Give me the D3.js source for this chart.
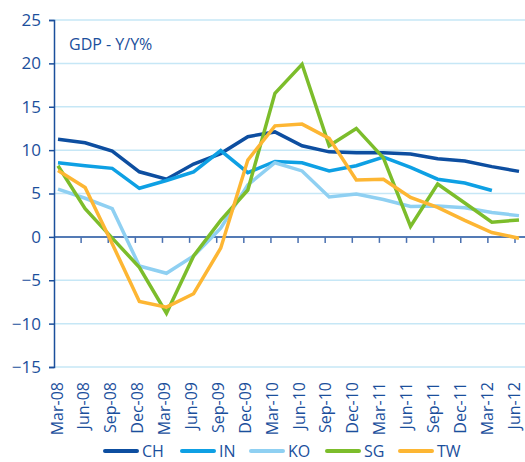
<!DOCTYPE html>
<html>
<head>
<meta charset="utf-8">
<script src="https://cdn.jsdelivr.net/npm/d3@7"></script>
<style>
  body { margin: 0; background: #fff; }
  svg text { font-family: "Open Sans", "Noto Sans", sans-serif; fill: #1b4f9c; }
</style>
</head>
<body>
<div id="chart"></div>
<script>
// Quarterly GDP growth, Y/Y %
const quarters = ['Mar-08', 'Jun-08', 'Sep-08', 'Dec-08', 'Mar-09', 'Jun-09', 'Sep-09', 'Dec-09',
    'Mar-10', 'Jun-10', 'Sep-10', 'Dec-10', 'Mar-11', 'Jun-11', 'Sep-11', 'Dec-11', 'Mar-12', 'Jun-12'];

const chValues = [11.25, 10.85, 9.9, 7.5, 6.65, 8.4, 9.6, 11.55, 12.1, 10.5, 9.8, 9.7, 9.7, 9.55, 9.0, 8.75, 8.1, 7.55];
const inValues = [8.55, 8.2, 7.9, 5.6, 6.5, 7.5, 9.95, 7.4, 8.7, 8.55, 7.6, 8.2, 9.2, 8.0, 6.65, 6.2, 5.35, null];
const koValues = [5.5, 4.45, 3.25, -3.35, -4.2, -2.2, 1.0, 6.0, 8.55, 7.6, 4.6, 4.95, 4.3, 3.5, 3.55, 3.35, 2.8, 2.45];
const sgValues = [8.2, 3.25, -0.15, -3.5, -8.8, -2.2, 1.9, 5.4, 16.55, 19.9, 10.5, 12.5, 9.1, 1.2, 6.1, 3.9, 1.7, 1.95];
const twValues = [7.65, 5.7, -0.8, -7.45, -8.1, -6.55, -1.3, 8.85, 12.8, 13.0, 11.35, 6.55, 6.65, 4.55, 3.4, 1.9, 0.5, -0.15];

const seriesNames = ['CH', 'IN', 'KO', 'SG', 'TW'];
const seriesColors = ['#0d4ea0', '#0ea0e4', '#8fd0f2', '#7cbd2b', '#fdb633'];
const yTicks = [-15, -10, -5, 0, 5, 10, 15, 20, 25];

const series = [chValues, inValues, koValues, sgValues, twValues].map((vals, i) => ({
    name: seriesNames[i],
    color: seriesColors[i],
    values: vals.map((v, j) => ({ q: quarters[j], v: v }))
}));

const width = 525;
const height = 462;
const axisColor = '#1b4f9c';

const svg = d3.select('#chart')
    .append('svg')
    .attr('width', width)
    .attr('height', height);

const x = d3.scalePoint()
    .domain(quarters)
    .range([58, 519]);

// labels sit slightly left of the data points
const xLabel = d3.scalePoint()
    .domain(quarters)
    .range([57, 514]);

const y = d3.scaleLinear()
    .domain([-15, 25])
    .range([367, 20]);

const axisLeft = 54;

// gridlines
svg.append('g')
    .selectAll('line')
    .data(yTicks.filter(t => t !== 0))
    .enter()
    .append('line')
    .attr('x1', axisLeft)
    .attr('x2', width)
    .attr('y1', d => y(d))
    .attr('y2', d => y(d))
    .attr('stroke', '#c6e7f6')
    .attr('stroke-width', 1.5);

// y axis
const yAxis = svg.append('g')
    .attr('transform', `translate(${axisLeft},0)`)
    .call(d3.axisLeft(y).tickValues(yTicks).tickSize(5).tickPadding(8));
yAxis.select('.domain').attr('stroke', axisColor).attr('stroke-width', 1.5);
yAxis.selectAll('.tick line').attr('stroke', axisColor).attr('stroke-width', 1.5);
yAxis.selectAll('.tick text')
    .attr('font-size', '17px')
    .attr('fill', axisColor);

// zero line with tick marks
svg.append('line')
    .attr('x1', axisLeft)
    .attr('x2', width)
    .attr('y1', y(0))
    .attr('y2', y(0))
    .attr('stroke', axisColor)
    .attr('stroke-width', 1.5);

svg.append('g')
    .selectAll('line')
    .data(quarters.slice(1))
    .enter()
    .append('line')
    .attr('x1', d => x(d) - 4)
    .attr('x2', d => x(d) - 4)
    .attr('y1', y(0))
    .attr('y2', y(0) + 6)
    .attr('stroke', '#4a70b0')
    .attr('stroke-width', 1.5);

// category labels at the bottom
svg.append('g')
    .selectAll('text')
    .data(quarters)
    .enter()
    .append('text')
    .attr('transform', d => `translate(${xLabel(d)},382) rotate(-90)`)
    .attr('text-anchor', 'end')
    .attr('dy', '0.35em')
    .attr('font-size', '16px')
    .text(d => d);

// title
svg.append('text')
    .attr('x', 69)
    .attr('y', 50)
    .attr('font-size', '16px')
    .text('GDP - Y/Y%');

// lines
const line = d3.line()
    .defined(d => d.v !== null)
    .x(d => x(d.q))
    .y(d => y(d.v));

svg.append('g')
    .selectAll('path')
    .data(series)
    .enter()
    .append('path')
    .attr('d', d => line(d.values))
    .attr('fill', 'none')
    .attr('stroke', d => d.color)
    .attr('stroke-width', 3.5)
    .attr('stroke-linejoin', 'miter');

// legend
const legendX = [105, 182, 251, 327, 400];
const legend = svg.append('g')
    .selectAll('g')
    .data(series)
    .enter()
    .append('g')
    .attr('transform', (d, i) => `translate(${legendX[i]},451)`);

legend.append('line')
    .attr('x1', 0)
    .attr('x2', 32)
    .attr('stroke', d => d.color)
    .attr('stroke-width', 4)
    .attr('stroke-linecap', 'round');

legend.append('text')
    .attr('x', 37)
    .attr('y', 6)
    .attr('font-size', '16px')
    .text(d => d.name);
</script>
</body>
</html>
